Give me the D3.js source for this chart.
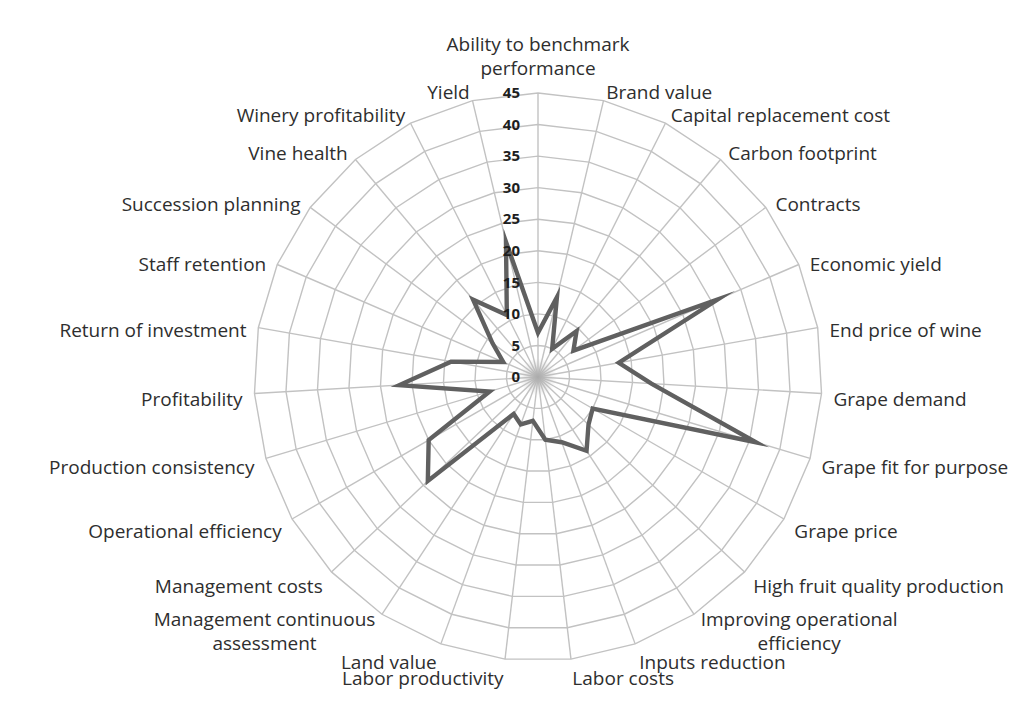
<!DOCTYPE html>
<html><head><meta charset="utf-8">
<script src="https://cdn.jsdelivr.net/npm/d3@7"></script>
<style>html,body{margin:0;padding:0;background:#fff}svg{display:block}</style>
</head><body>
<svg id="chart" width="1024" height="711"></svg>
<script>
const categories = [
  "Ability to benchmark performance", "Brand value", "Capital replacement cost",
  "Carbon footprint", "Contracts", "Economic yield", "End price of wine",
  "Grape demand", "Grape fit for purpose", "Grape price",
  "High fruit quality production", "Improving operational efficiency",
  "Inputs reduction", "Labor costs", "Labor productivity", "Land value",
  "Management continuous assessment", "Management costs",
  "Operational efficiency", "Production consistency", "Profitability",
  "Return of investment", "Staff retention", "Succession planning",
  "Vine health", "Winery profitability", "Yield"
];
const values = [7, 13, 5, 9.5, 7, 31, 13, 18, 36, 10, 11, 14, 11, 10, 7, 8, 7, 24, 20, 8, 22, 14, 6, 9, 16, 11, 22];
const tickValues = [0, 5, 10, 15, 20, 25, 30, 35, 40, 45];

const cx = 538, cy = 377, R = 284;
const FONT = "'Open Sans', 'Noto Sans', sans-serif";
const svg = d3.select("#chart");
svg.append("rect").attr("width", 1024).attr("height", 711).attr("fill", "#fff");
const defs = svg.append("defs");
const grad = defs.append("radialGradient").attr("id", "hub");
grad.append("stop").attr("offset", "0%").attr("stop-color", "#a8a8a8").attr("stop-opacity", 0.9);
grad.append("stop").attr("offset", "100%").attr("stop-color", "#c8c8c8").attr("stop-opacity", 0);

const n = categories.length;
const angle = d3.scaleLinear().domain([0, n]).range([0, 2 * Math.PI]);
const r = d3.scaleLinear().domain([0, 45]).range([0, R]);
const g = svg.append("g").attr("transform", `translate(${cx},${cy})`);

// spokes
g.append("g").selectAll("line").data(categories).join("line")
  .attr("x1", 0).attr("y1", 0)
  .attr("x2", (d, i) => r(45) * Math.sin(angle(i)))
  .attr("y2", (d, i) => -r(45) * Math.cos(angle(i)))
  .attr("stroke", "#c2c2c2").attr("stroke-width", 1.4);

// rings
const ringLine = d3.lineRadial().angle((d, i) => angle(i)).radius(d => r(d)).curve(d3.curveLinearClosed);
g.append("g").selectAll("path").data(tickValues.filter(t => t > 0)).join("path")
  .attr("d", t => ringLine(categories.map(() => t)))
  .attr("fill", "none").attr("stroke", "#c2c2c2").attr("stroke-width", 1.4);

// hub shading where the spokes converge
g.append("circle").attr("r", r(3)).attr("fill", "url(#hub)");

// series
const seriesLine = d3.lineRadial().angle((d, i) => angle(i)).radius(d => r(d)).curve(d3.curveLinearClosed);
g.append("path").attr("d", seriesLine(values))
  .attr("fill", "none").attr("stroke", "#606060").attr("stroke-width", 4.4)
  .attr("stroke-linejoin", "miter").attr("stroke-miterlimit", 10);

// tick labels
g.append("g").selectAll("text").data(tickValues).join("text")
  .attr("x", -18).attr("y", t => -r(t)).attr("dy", "0.35em")
  .attr("text-anchor", "end")
  .attr("font-family", FONT).attr("font-size", 15).attr("font-weight", 700)
  .attr("fill", "#1e1e1e").text(t => t);

// category labels
const fs = 19, lineH = 24, maxW = 255;
const labelG = g.append("g").attr("font-family", FONT).attr("font-size", fs).attr("fill", "#2e2e2e");
function measure(s) {
  const t = labelG.append("text").text(s);
  const w = t.node().getComputedTextLength();
  t.remove();
  return w;
}
categories.forEach((c, i) => {
  const a = angle(i), s = Math.sin(a), co = Math.cos(a);
  const words = c.split(" ");
  const lines = [];
  let cur = "";
  words.forEach(w => {
    const trial = cur ? cur + " " + w : w;
    if (cur && measure(trial) > maxW) { lines.push(cur); cur = w; } else cur = trial;
  });
  lines.push(cur);
  const bw = d3.max(lines.map(measure));
  const px = (R + 12) * s;
  const py = -R * co;
  let centerX;
  if (Math.abs(s) < 0.05) centerX = px;
  else if (s > 0) centerX = px + bw / 2;
  else centerX = px - bw / 2;
  const centerY = py + 5 - 14 * co - (lines.length - 1) * 28 * Math.max(0, co);
  const top = centerY - (lines.length - 1) * lineH / 2;
  lines.forEach((ln, k) => {
    labelG.append("text")
      .attr("x", centerX).attr("y", top + k * lineH).attr("dy", "0.35em")
      .attr("text-anchor", "middle").text(ln);
  });
});
</script>
</body></html>
